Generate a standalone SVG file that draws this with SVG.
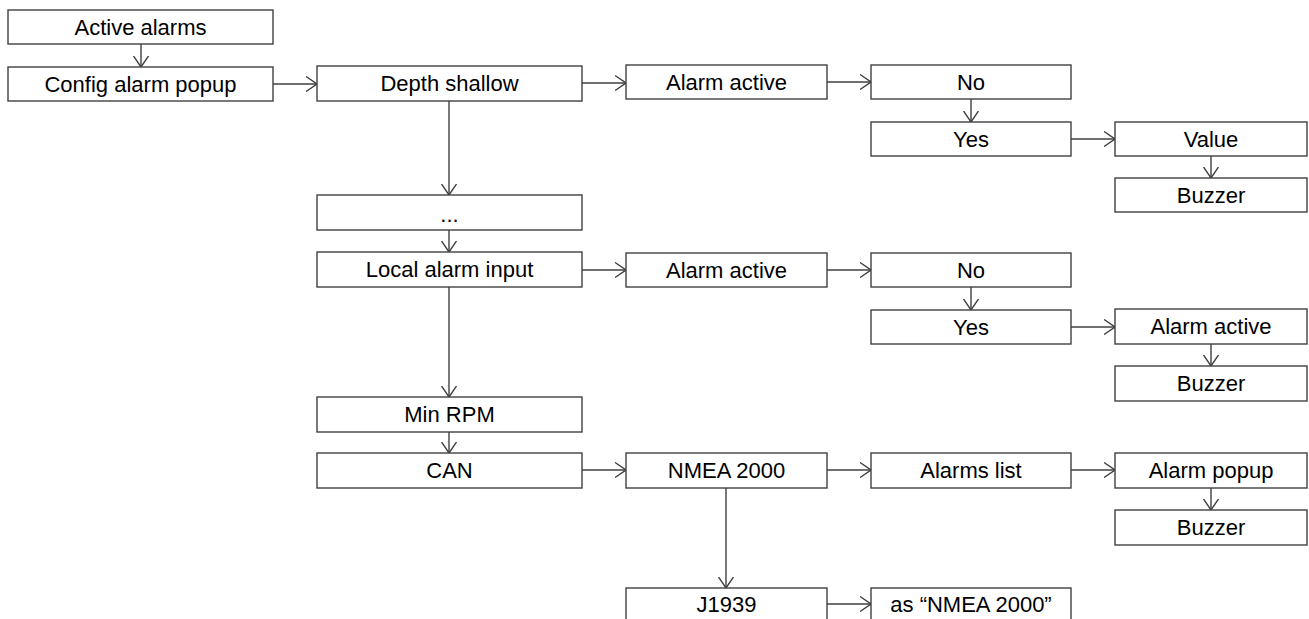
<svg xmlns="http://www.w3.org/2000/svg" width="1309" height="619" viewBox="0 0 1309 619">
<defs>
<style>
.box{fill:#fff;stroke:#404040;stroke-width:1.4}
.t{font-family:"Liberation Sans",Arial,sans-serif;font-size:22px;fill:#000;text-anchor:middle}
.c{fill:none;stroke:#404040;stroke-width:1.4}
</style>
<marker id="ah" viewBox="0 0 12 16" refX="11.5" refY="8" markerWidth="12" markerHeight="16" markerUnits="userSpaceOnUse" orient="auto">
<path d="M0.5,0.5 L11.5,8 L0.5,15.5" fill="none" stroke="#404040" stroke-width="1.4"/>
</marker>
</defs>
<rect width="1309" height="619" fill="#fff"/>
<g id="connectors">
<line class="c" x1="141" y1="44" x2="141" y2="67" marker-end="url(#ah)"/>
<line class="c" x1="273" y1="84" x2="317" y2="84" marker-end="url(#ah)"/>
<line class="c" x1="582" y1="83" x2="626" y2="83" marker-end="url(#ah)"/>
<line class="c" x1="827" y1="82" x2="871" y2="82" marker-end="url(#ah)"/>
<line class="c" x1="971" y1="99" x2="971" y2="122" marker-end="url(#ah)"/>
<line class="c" x1="1071" y1="139" x2="1115" y2="139" marker-end="url(#ah)"/>
<line class="c" x1="1211" y1="156" x2="1211" y2="178" marker-end="url(#ah)"/>
<line class="c" x1="449" y1="101" x2="449" y2="195" marker-end="url(#ah)"/>
<line class="c" x1="449" y1="230" x2="449" y2="252" marker-end="url(#ah)"/>
<line class="c" x1="582" y1="270" x2="626" y2="270" marker-end="url(#ah)"/>
<line class="c" x1="827" y1="270" x2="871" y2="270" marker-end="url(#ah)"/>
<line class="c" x1="971" y1="287" x2="971" y2="310" marker-end="url(#ah)"/>
<line class="c" x1="1071" y1="327" x2="1115" y2="327" marker-end="url(#ah)"/>
<line class="c" x1="1211" y1="344" x2="1211" y2="366" marker-end="url(#ah)"/>
<line class="c" x1="449" y1="287" x2="449" y2="397" marker-end="url(#ah)"/>
<line class="c" x1="449" y1="432" x2="449" y2="453" marker-end="url(#ah)"/>
<line class="c" x1="582" y1="470" x2="626" y2="470" marker-end="url(#ah)"/>
<line class="c" x1="827" y1="470" x2="871" y2="470" marker-end="url(#ah)"/>
<line class="c" x1="1071" y1="470" x2="1115" y2="470" marker-end="url(#ah)"/>
<line class="c" x1="1211" y1="488" x2="1211" y2="510" marker-end="url(#ah)"/>
<line class="c" x1="726" y1="488" x2="726" y2="588" marker-end="url(#ah)"/>
<line class="c" x1="827" y1="604" x2="871" y2="604" marker-end="url(#ah)"/>
</g>
<g id="n-active-alarms"><rect class="box" x="8" y="10" width="265" height="34"/><text class="t" x="140.5" y="35">Active alarms</text></g>
<g id="n-config"><rect class="box" x="8" y="67" width="265" height="34"/><text class="t" x="140.5" y="92">Config alarm popup</text></g>
<g id="n-depth"><rect class="box" x="317" y="66" width="265" height="35"/><text class="t" x="449.5" y="91">Depth shallow</text></g>
<g id="n-alarm-active-1"><rect class="box" x="626" y="65" width="201" height="34"/><text class="t" x="726.5" y="90">Alarm active</text></g>
<g id="n-no-1"><rect class="box" x="871" y="65" width="200" height="34"/><text class="t" x="971" y="90">No</text></g>
<g id="n-yes-1"><rect class="box" x="871" y="122" width="200" height="34"/><text class="t" x="971" y="147">Yes</text></g>
<g id="n-value"><rect class="box" x="1115" y="122" width="192" height="34"/><text class="t" x="1211" y="147">Value</text></g>
<g id="n-buzzer-1"><rect class="box" x="1115" y="178" width="192" height="34"/><text class="t" x="1211" y="203">Buzzer</text></g>
<g id="n-dots"><rect class="box" x="317" y="195" width="265" height="35"/><text class="t" x="449.5" y="222">...</text></g>
<g id="n-local"><rect class="box" x="317" y="252" width="265" height="35"/><text class="t" x="449.5" y="277">Local alarm input</text></g>
<g id="n-alarm-active-2"><rect class="box" x="626" y="253" width="201" height="34"/><text class="t" x="726.5" y="278">Alarm active</text></g>
<g id="n-no-2"><rect class="box" x="871" y="253" width="200" height="34"/><text class="t" x="971" y="278">No</text></g>
<g id="n-yes-2"><rect class="box" x="871" y="310" width="200" height="34"/><text class="t" x="971" y="335">Yes</text></g>
<g id="n-alarm-active-3"><rect class="box" x="1115" y="309" width="192" height="35"/><text class="t" x="1211" y="334">Alarm active</text></g>
<g id="n-buzzer-2"><rect class="box" x="1115" y="366" width="192" height="35"/><text class="t" x="1211" y="391">Buzzer</text></g>
<g id="n-minrpm"><rect class="box" x="317" y="397" width="265" height="35"/><text class="t" x="449.5" y="422">Min RPM</text></g>
<g id="n-can"><rect class="box" x="317" y="453" width="265" height="35"/><text class="t" x="449.5" y="478">CAN</text></g>
<g id="n-nmea"><rect class="box" x="626" y="453" width="201" height="35"/><text class="t" x="726.5" y="478">NMEA 2000</text></g>
<g id="n-alarms-list"><rect class="box" x="871" y="453" width="200" height="35"/><text class="t" x="971" y="478">Alarms list</text></g>
<g id="n-alarm-popup"><rect class="box" x="1115" y="453" width="192" height="35"/><text class="t" x="1211" y="478">Alarm popup</text></g>
<g id="n-buzzer-3"><rect class="box" x="1115" y="510" width="192" height="35"/><text class="t" x="1211" y="535">Buzzer</text></g>
<g id="n-j1939"><rect class="box" x="626" y="588" width="201" height="35"/><text class="t" x="726.5" y="612">J1939</text></g>
<g id="n-as-nmea"><rect class="box" x="871" y="588" width="200" height="35"/><text class="t" x="971" y="612">as “NMEA 2000”</text></g>
</svg>
